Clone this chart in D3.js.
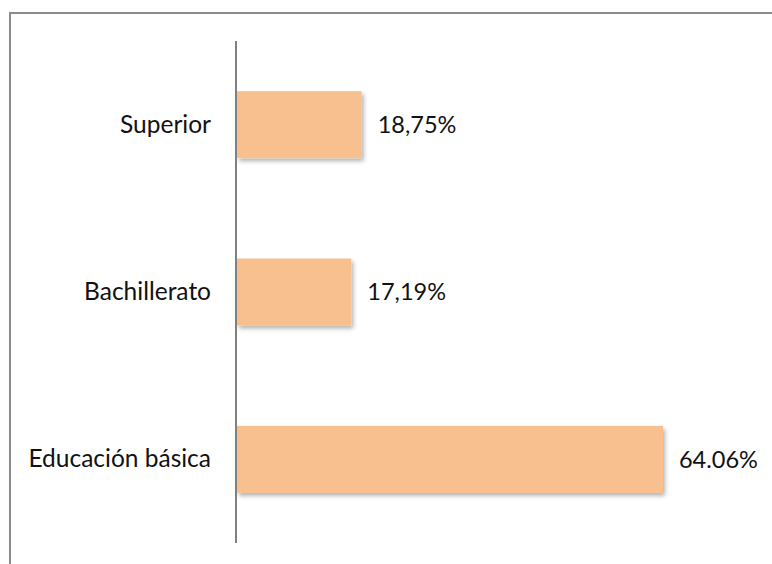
<!DOCTYPE html>
<html>
<head>
<meta charset="utf-8">
<script src="https://cdn.jsdelivr.net/npm/d3@7"></script>
<style>
  body { margin: 0; background: #fff; }
  svg { display: block; }
  text { font-family: Lato, "Open Sans", sans-serif; fill: #111; }
</style>
</head>
<body>
<svg id="chart" width="772" height="564"></svg>
<script>
const categories = ['Superior', 'Bachillerato', 'Educación básica'];
const values = [18.75, 17.19, 64.06];
const valueLabels = ['18,75%', '17,19%', '64.06%'];

const svg = d3.select('#chart');
const w = +svg.attr('width');
const h = +svg.attr('height');

// outer frame (only top and left are visible in the crop)
svg.append('path')
    .attr('d', `M10,${h} L10,13 L${w},13`)
    .attr('fill', 'none')
    .attr('stroke', '#8c8c8c')
    .attr('stroke-width', 2);

const defs = svg.append('defs');
defs.append('filter')
    .attr('id', 'shadow')
    .attr('x', '-10%').attr('y', '-10%')
    .attr('width', '130%').attr('height', '140%')
  .append('feDropShadow')
    .attr('dx', 2).attr('dy', 3)
    .attr('stdDeviation', 2)
    .attr('flood-color', '#000')
    .attr('flood-opacity', 0.3);

const xScale = d3.scaleLinear().domain([0, 80]).range([237, 769]);
const yScale = d3.scaleBand()
    .domain(categories)
    .range([41, 543])
    .paddingInner(0.6)
    .paddingOuter(0.3);

svg.selectAll('rect.bar')
    .data(values)
    .join('rect')
    .attr('class', 'bar')
    .attr('x', xScale(0))
    .attr('y', (_, i) => yScale(categories[i]))
    .attr('width', d => xScale(d) - xScale(0))
    .attr('height', yScale.bandwidth())
    .attr('fill', '#f9c08f')
    .attr('filter', 'url(#shadow)');

svg.selectAll('text.val')
    .data(values)
    .join('text')
    .attr('class', 'val')
    .attr('x', d => xScale(d) + 16)
    .attr('y', (_, i) => yScale(categories[i]) + yScale.bandwidth() / 2)
    .attr('dy', '0.35em')
    .attr('font-size', 23.5)
    .text((_, i) => valueLabels[i]);

const yAxis = d3.axisLeft(yScale).tickSize(0).tickPadding(25);
const gAxis = svg.append('g')
    .attr('transform', `translate(${xScale(0) - 1},0)`)
    .call(yAxis);
gAxis.select('.domain')
    .attr('d', `M0,41V543`)
    .attr('stroke', '#808080')
    .attr('stroke-width', 2);
gAxis.selectAll('text')
    .attr('font-size', 24.5)
    .attr('font-family', 'Lato, "Open Sans", sans-serif')
    .attr('fill', '#111');
</script>
</body>
</html>
